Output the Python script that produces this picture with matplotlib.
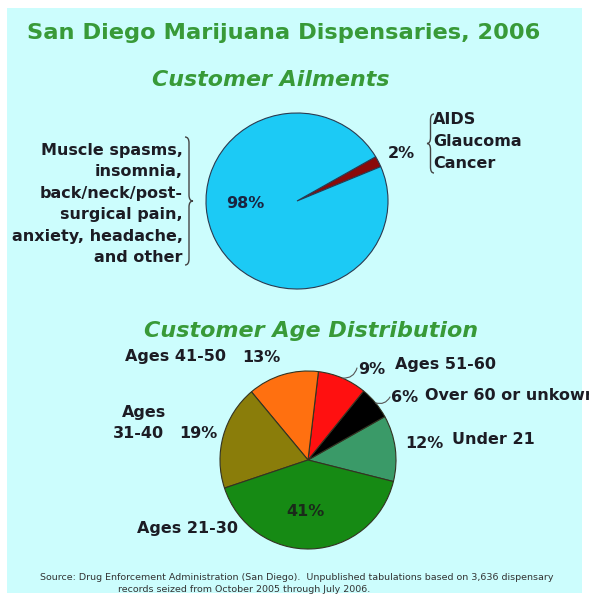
import numpy as np
import matplotlib
matplotlib.use("Agg")
import matplotlib.pyplot as plt
from matplotlib.patches import Rectangle, PathPatch
from matplotlib.path import Path

# ---------------- data ----------------
title = "San Diego Marijuana Dispensaries, 2006"
ailment_title = "Customer Ailments"
ailment_values = [2, 98]
ailment_pct_labels = ["2%", "98%"]
ailment_colors = ["#8b0a0a", "#1ccaf5"]
ailment_other = ["Muscle spasms,", "insomnia,", "back/neck/post-",
                 "surgical pain,", "anxiety, headache,", "and other"]
ailment_serious = ["AIDS", "Glaucoma", "Cancer"]

age_title = "Customer Age Distribution"
age_groups = ["Under 21", "Over 60 or unkown", "Ages 51-60", "Ages 41-50",
              "Ages 31-40", "Ages 21-30"]
age_values = [12, 6, 9, 13, 19, 41]
age_colors = ["#3a9a68", "#000000", "#ff1010", "#ff7010", "#8a7d0a", "#168a14"]

source = ("Source: Drug Enforcement Administration (San Diego).  Unpublished tabulations based on 3,636 dispensary\n"
          "records seized from October 2005 through July 2006.")

W, H = 589, 602
DPI = 100
GREEN = "#389a38"
TXT = "#1c1c24"

fig = plt.figure(figsize=(W / DPI, H / DPI), dpi=DPI, facecolor="white")

# background / overlay axes in pixel coordinates
bg = fig.add_axes([0, 0, 1, 1], zorder=0)
bg.set_xlim(0, W)
bg.set_ylim(H, 0)
bg.axis("off")
bg.add_patch(Rectangle((7, 8), 575, 585, facecolor="#ccfdfd", edgecolor="none"))


def pie_axes(cx, cy, rx, ry):
    ax = fig.add_axes([(cx - rx) / W, 1 - (cy + ry) / H, 2 * rx / W, 2 * ry / H], zorder=1)
    ax.patch.set_alpha(0)
    return ax


def brace(x0, ytop, ybot, w, direction, r=6):
    # direction=+1 : '}' tip to the right ; -1 : '{' tip to the left
    xm = x0 + direction * w / 2
    xt = x0 + direction * w
    ym = (ytop + ybot) / 2
    verts = [(x0, ytop), (xm, ytop), (xm, ytop + r),
             (xm, ym - r), (xm, ym), (xt, ym),
             (xm, ym), (xm, ym + r),
             (xm, ybot - r), (xm, ybot), (x0, ybot)]
    codes = [Path.MOVETO, Path.CURVE3, Path.CURVE3,
             Path.LINETO, Path.CURVE3, Path.CURVE3,
             Path.CURVE3, Path.CURVE3,
             Path.LINETO, Path.CURVE3, Path.CURVE3]
    bg.add_patch(PathPatch(Path(verts, codes), facecolor="none",
                           edgecolor="#444444", lw=1.0))


# ---------------- titles ----------------
bg.text(284, 33, title, color=GREEN, fontsize=16.2, fontweight="bold",
        ha="center", va="center")
bg.text(271, 80, ailment_title, color=GREEN, fontsize=15.9, fontweight="bold",
        style="italic", ha="center", va="center")
bg.text(311, 331, age_title, color=GREEN, fontsize=16, fontweight="bold",
        style="italic", ha="center", va="center")

# ---------------- top pie ----------------
ax1 = pie_axes(297, 201, 91, 88)
w1, _ = ax1.pie(ailment_values, colors=ailment_colors, startangle=23,
                counterclock=True,
                wedgeprops=dict(edgecolor="#2a3a50", linewidth=0.8))
ax1.set_aspect("auto")
ax1.set_xlim(-1.0, 1.0)
ax1.set_ylim(-1.0, 1.0)
ax1.text(-0.57, -0.03, ailment_pct_labels[1], color="#1a2440", fontsize=11.5,
         fontweight="bold", ha="center", va="center")

bg.text(401, 153, ailment_pct_labels[0], color=TXT, fontsize=11.5,
        fontweight="bold", ha="center", va="center")
for i, s in enumerate(ailment_other):
    bg.text(183, 150 + i * 21.6, s, color=TXT, fontsize=11.5, fontweight="bold",
            ha="right", va="center")
brace(185, 137, 265, 8, +1)
for i, s in enumerate(ailment_serious):
    bg.text(433, 120 + i * 22, s, color=TXT, fontsize=11.5, fontweight="bold",
            ha="left", va="center")
brace(434, 114, 173, 7, -1)

# ---------------- bottom pie ----------------
ax2 = pie_axes(308, 460, 88, 89)
w2, _ = ax2.pie(age_values, colors=age_colors, startangle=-14,
                counterclock=True,
                wedgeprops=dict(edgecolor="#333322", linewidth=0.8))
ax2.set_aspect("auto")
ax2.set_xlim(-1.0, 1.0)
ax2.set_ylim(-1.0, 1.0)
ax2.text(-0.03, -0.58, f"{age_values[5]}%", color="#1a2a1a", fontsize=11.5,
         fontweight="bold", ha="center", va="center")

# leader lines for the small wedges (Ages 51-60, Over 60)
for idx, xyt in [(2, (357, 368)), (1, (390, 397))]:
    wd = w2[idx]
    th = np.deg2rad((wd.theta1 + wd.theta2) / 2)
    xd, yd = np.cos(th), np.sin(th)
    ax2.annotate("", xy=(xd, yd), xycoords="data",
                 xytext=xyt, textcoords=bg.transData,
                 arrowprops=dict(arrowstyle="-", color="#555555", lw=0.8,
                                 connectionstyle="arc3,rad=-0.4",
                                 shrinkA=0, shrinkB=0))

lab = dict(color=TXT, fontsize=11.5, fontweight="bold", va="center")
bg.text(125, 357, "Ages 41-50", ha="left", **lab)
bg.text(280, 357, f"{age_values[3]}%", ha="right", **lab)
bg.text(358, 369, f"{age_values[2]}%", ha="left", **lab)
bg.text(395, 365, "Ages 51-60", ha="left", **lab)
bg.text(391, 398, f"{age_values[1]}%", ha="left", **lab)
bg.text(425, 395, "Over 60 or unkown", ha="left", **lab)
bg.text(405, 443, f"{age_values[0]}%", ha="left", **lab)
bg.text(452, 440, "Under 21", ha="left", **lab)
bg.text(122, 413, "Ages", ha="left", **lab)
bg.text(113, 433, "31-40", ha="left", **lab)
bg.text(217, 433, f"{age_values[4]}%", ha="right", **lab)
bg.text(137, 529, "Ages 21-30", ha="left", **lab)

# ---------------- source ----------------
bg.text(40, 578, source.split("\n")[0], color="#333333", fontsize=6.8,
        ha="left", va="center")
bg.text(118, 590, source.split("\n")[1], color="#333333", fontsize=6.8,
        ha="left", va="center")

fig.savefig("out.png", dpi=DPI, facecolor="white")
